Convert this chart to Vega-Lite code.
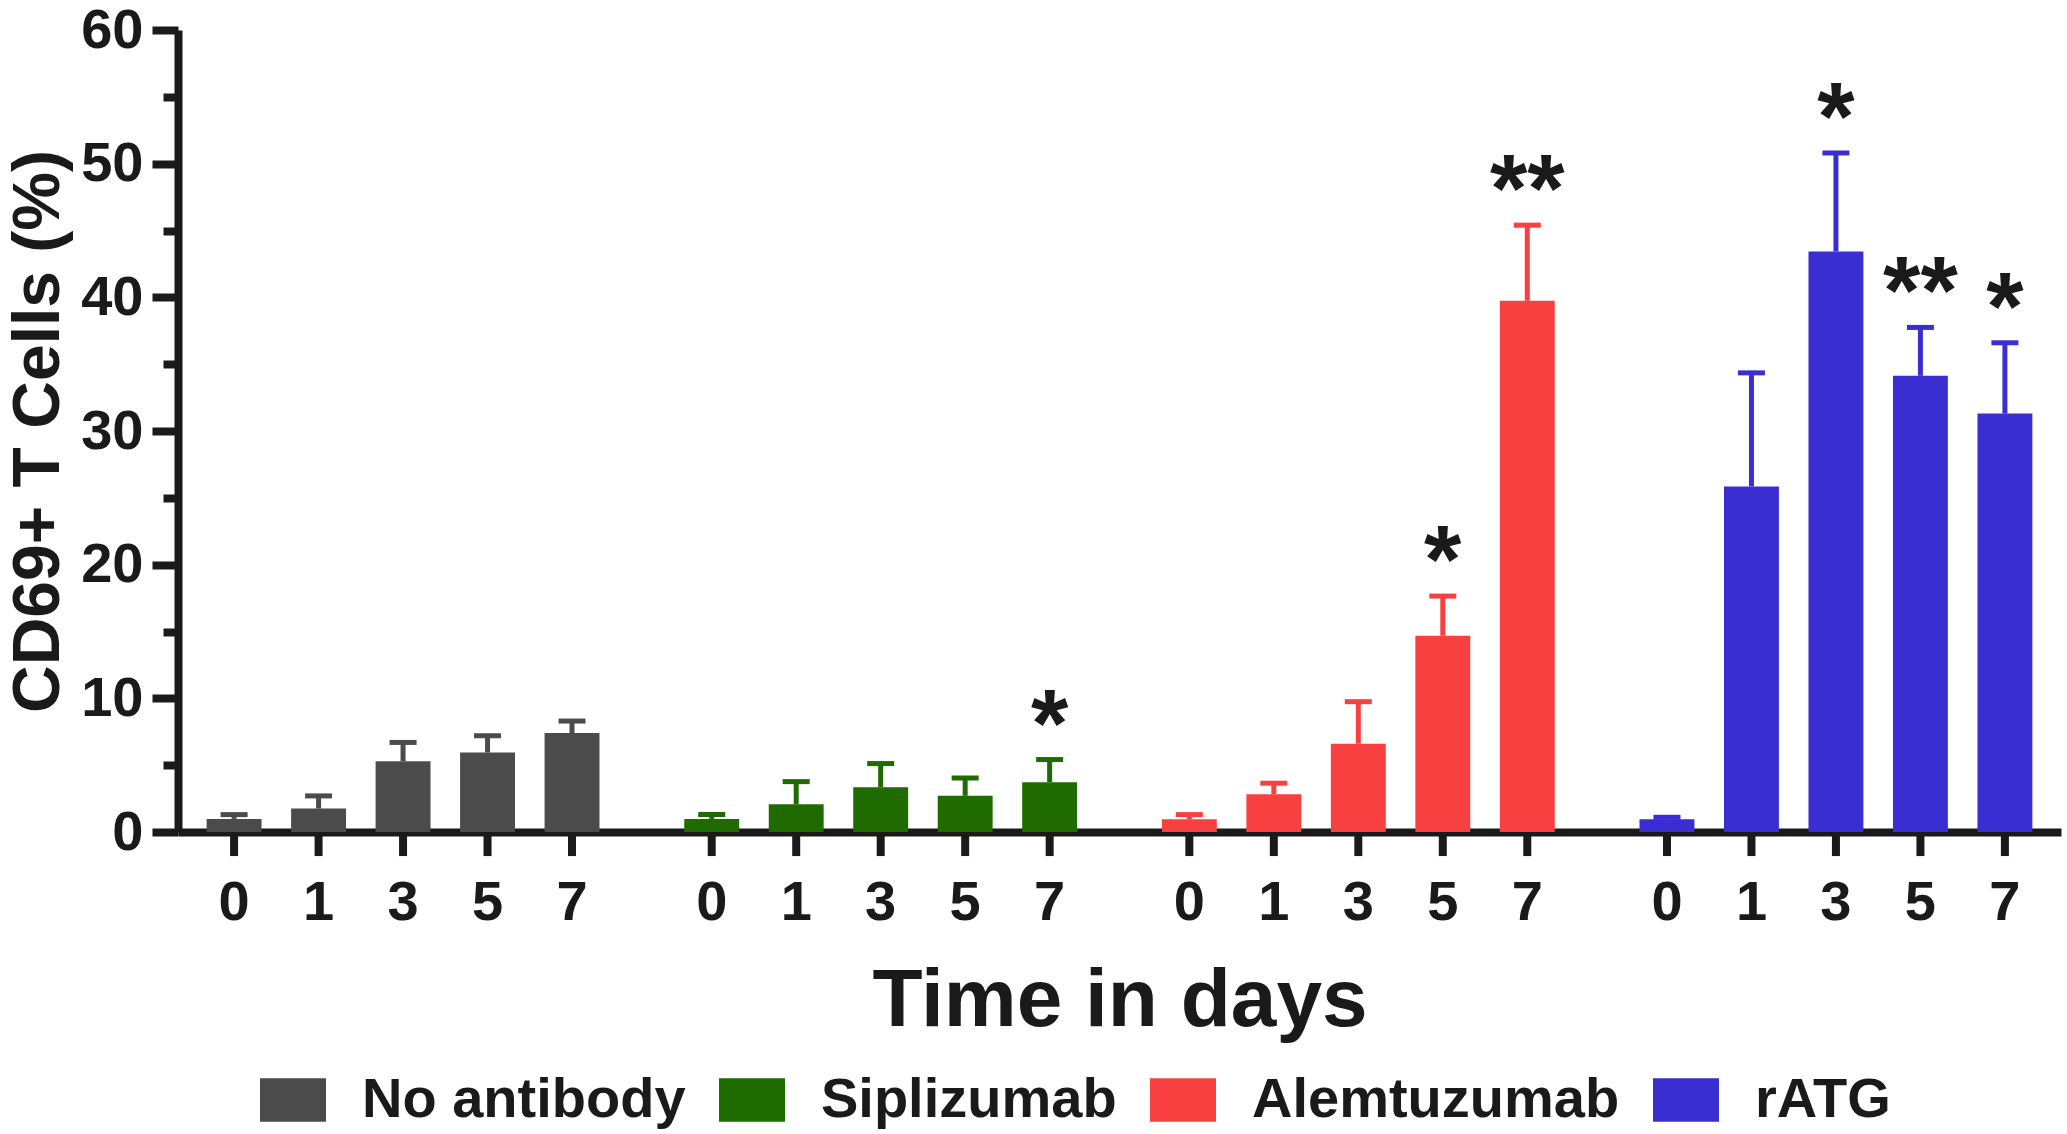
{
  "$schema": "https://vega.github.io/schema/vega-lite/v6.json",
  "description": "CD69+ T cells over time by antibody",
  "autosize": "none",
  "width": 1883,
  "height": 802,
  "padding": {"left": 178, "top": 30, "right": 6, "bottom": 302},
  "background": "white",
  "config": {
    "view": {"stroke": null},
    "font": "Liberation Sans",
    "axis": {"labelFont": "Liberation Sans", "titleFont": "Liberation Sans", "labelColor": "#1a1a1a", "titleColor": "#1a1a1a", "domainColor": "#1a1a1a", "tickColor": "#1a1a1a"}
  },
  "data": {
    "values": [
      {"group": "No antibody", "day": "0", "mean": 0.98, "upper": 1.3, "sig": ""},
      {"group": "No antibody", "day": "1", "mean": 1.75, "upper": 2.7, "sig": ""},
      {"group": "No antibody", "day": "3", "mean": 5.3, "upper": 6.7, "sig": ""},
      {"group": "No antibody", "day": "5", "mean": 5.95, "upper": 7.2, "sig": ""},
      {"group": "No antibody", "day": "7", "mean": 7.4, "upper": 8.3, "sig": ""},
      {"group": "Siplizumab", "day": "0", "mean": 0.98, "upper": 1.31, "sig": ""},
      {"group": "Siplizumab", "day": "1", "mean": 2.07, "upper": 3.77, "sig": ""},
      {"group": "Siplizumab", "day": "3", "mean": 3.35, "upper": 5.12, "sig": ""},
      {"group": "Siplizumab", "day": "5", "mean": 2.71, "upper": 4.04, "sig": ""},
      {"group": "Siplizumab", "day": "7", "mean": 3.72, "upper": 5.42, "sig": "*"},
      {"group": "Alemtuzumab", "day": "0", "mean": 0.95, "upper": 1.3, "sig": ""},
      {"group": "Alemtuzumab", "day": "1", "mean": 2.82, "upper": 3.65, "sig": ""},
      {"group": "Alemtuzumab", "day": "3", "mean": 6.61, "upper": 9.75, "sig": ""},
      {"group": "Alemtuzumab", "day": "5", "mean": 14.68, "upper": 17.65, "sig": "*"},
      {"group": "Alemtuzumab", "day": "7", "mean": 39.74, "upper": 45.4, "sig": "**"},
      {"group": "rATG", "day": "0", "mean": 0.95, "upper": 1.1, "sig": ""},
      {"group": "rATG", "day": "1", "mean": 25.85, "upper": 34.35, "sig": ""},
      {"group": "rATG", "day": "3", "mean": 43.43, "upper": 50.8, "sig": "*"},
      {"group": "rATG", "day": "5", "mean": 34.13, "upper": 37.75, "sig": "**"},
      {"group": "rATG", "day": "7", "mean": 31.3, "upper": 36.6, "sig": "*"}
    ]
  },
  "encoding": {
    "x": {
      "field": "group",
      "type": "nominal",
      "sort": ["No antibody", "Siplizumab", "Alemtuzumab", "rATG"],
      "scale": {"paddingInner": 0.1156, "paddingOuter": 0.029},
      "axis": {
        "labels": false,
        "ticks": false,
        "domainWidth": 8,
        "title": "Time in days",
        "titleFontSize": 82,
        "titleFontWeight": "bold",
        "titlePadding": 128
      }
    },
    "xOffset": {
      "field": "day",
      "type": "nominal",
      "sort": ["0", "1", "3", "5", "7"],
      "scale": {"paddingInner": 0.35, "paddingOuter": 0.175}
    },
    "color": {
      "field": "group",
      "type": "nominal",
      "scale": {
        "domain": ["No antibody", "Siplizumab", "Alemtuzumab", "rATG"],
        "range": ["#4b4b4b", "#1f6b00", "#f94041", "#3a2ed3"]
      },
      "legend": {
        "orient": "none",
        "legendX": 82,
        "legendY": 1037,
        "direction": "horizontal",
        "title": null,
        "symbolType": "M-1,-0.66H1V0.66H-1Z",
        "symbolSize": 4356,
        "symbolStrokeWidth": 0,
        "symbolOpacity": 1,
        "labelFont": "Liberation Sans",
        "labelFontSize": 56,
        "labelFontWeight": "bold",
        "labelColor": "#1a1a1a",
        "labelOffset": 36,
        "labelLimit": 600,
        "columnPadding": 33
      }
    }
  },
  "layer": [
    {
      "mark": {"type": "bar", "opacity": 1},
      "encoding": {
        "y": {
          "field": "mean",
          "type": "quantitative",
          "scale": {"domain": [0, 60], "nice": false},
          "axis": {
            "values": [0, 5, 10, 15, 20, 25, 30, 35, 40, 45, 50, 55, 60],
            "labelExpr": "datum.value % 10 === 0 ? datum.label : ''",
            "labelFontSize": 56,
            "labelFontWeight": "bold",
            "labelPadding": 9,
            "tickSize": {"condition": {"test": "datum.value % 10 === 0", "value": 26}, "value": 15},
            "tickWidth": 8,
            "domainWidth": 8,
            "grid": false,
            "title": "CD69+ T Cells (%)",
            "titleFontSize": 66,
            "titleFontWeight": "bold",
            "titlePadding": 8
          }
        }
      }
    },
    {
      "mark": {"type": "rule", "strokeWidth": 5, "opacity": 1},
      "encoding": {
        "y": {"field": "mean", "type": "quantitative"},
        "y2": {"field": "upper"}
      }
    },
    {
      "mark": {"type": "tick", "thickness": 5, "size": 27, "opacity": 1},
      "encoding": {
        "y": {"field": "upper", "type": "quantitative"}
      }
    },
    {
      "mark": {"type": "text", "font": "Liberation Sans", "fontSize": 96, "fontWeight": "bold", "baseline": "alphabetic", "dy": -4},
      "encoding": {
        "y": {"field": "upper", "type": "quantitative"},
        "text": {"field": "sig"},
        "color": {"value": "#1a1a1a"}
      }
    },
    {
      "mark": {"type": "rule", "strokeWidth": 8},
      "encoding": {
        "y": {"datum": 0},
        "y2": {"datum": -1.8},
        "color": {"value": "#1a1a1a"}
      }
    },
    {
      "mark": {"type": "text", "font": "Liberation Sans", "fontSize": 56, "fontWeight": "bold", "baseline": "alphabetic", "dy": 88},
      "encoding": {
        "y": {"datum": 0},
        "text": {"field": "day"},
        "color": {"value": "#1a1a1a"}
      }
    }
  ]
}
